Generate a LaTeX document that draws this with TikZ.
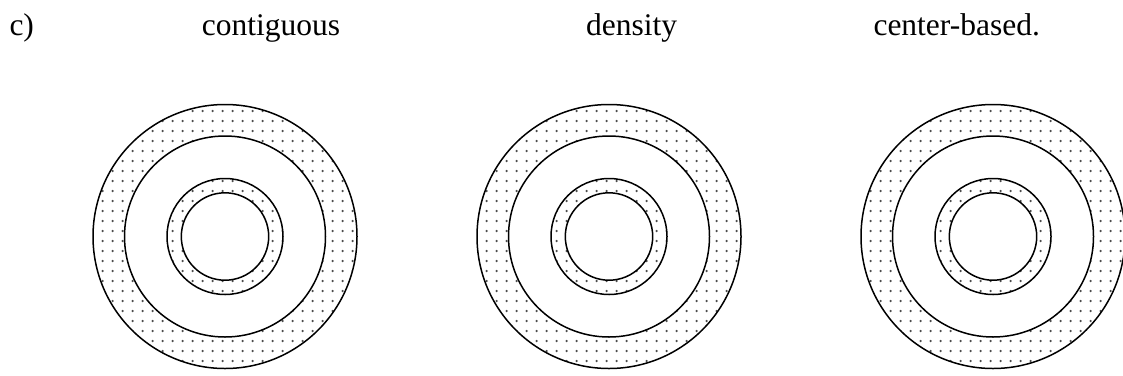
\documentclass[tikz,border=0pt]{standalone}
\usepackage{fontspec}
\setmainfont{Liberation Serif}
\tikzset{
  ring/.style={line width=1.5pt},
  dotfill/.style={fill=black!70},
  lbl/.style={anchor=base west, inner sep=0pt, font=\fontsize{31.5}{38}\selectfont},
}
\newcommand\drawtarget[2]{%
  \begin{scope}[even odd rule]
    \clip (#1,#2) circle (132pt) (#1,#2) circle (100.5pt)
          (#1,#2) circle (58pt) (#1,#2) circle (43.7pt);
    \foreach \i in {-14,...,14}{
      \foreach \j in {-14,...,14}{
        \fill[dotfill] ({#1+\i*10-2.3},{#2+\j*10+4.5}) circle (1.25pt);
      }
    }
  \end{scope}
  \draw[ring] (#1,#2) circle (132pt);
  \draw[ring] (#1,#2) circle (100.5pt);
  \draw[ring] (#1,#2) circle (58pt);
  \draw[ring] (#1,#2) circle (43.7pt);
}
\begin{document}
\begin{tikzpicture}[x=1pt,y=-1pt]
  \useasboundingbox (0,0) rectangle (1123,375);
  \node[lbl] (c) at (9.3,35) {c)};
  \node[lbl] (l1) at (201.7,35) {contiguous};
  \node[lbl] (l2) at (586,35) {density};
  \node[lbl] (l3) at (873.3,35) {center-based.};
  \drawtarget{225}{236.5}
  \drawtarget{609}{236.5}
  \drawtarget{993}{236.5}
\end{tikzpicture}
\end{document}
